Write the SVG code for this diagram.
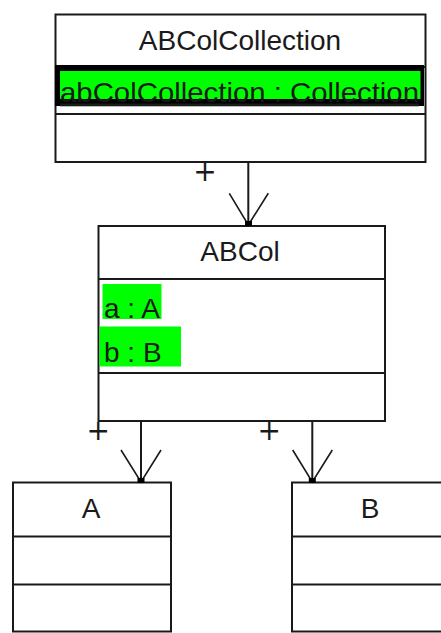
<svg xmlns="http://www.w3.org/2000/svg" width="441" height="633" viewBox="0 0 441 633">
<style>
.box{fill:#fff;stroke:#1a1a1a;stroke-width:2}
.div{stroke:#1a1a1a;stroke-width:2}
.t{font-family:"Liberation Sans",Arial,sans-serif;font-size:28px;fill:#1a1a1a}
.hl{fill:#00ff00}
.edge{stroke:#1a1a1a;stroke-width:2;fill:none}
.head{stroke:#1a1a1a;stroke-width:1.6;fill:none}
.mult{font-family:"DejaVu Sans",sans-serif;font-size:28px;fill:#1a1a1a}
</style>
<rect width="441" height="633" fill="#fff"/>
<g id="ABColCollection">
<rect class="box" x="55.5" y="14.5" width="370" height="147.5"/>
<line class="div" x1="55.5" y1="67" x2="425.5" y2="67"/>
<rect x="55" y="65" width="369" height="41" fill="#000"/>
<rect class="hl" x="60" y="71" width="360.5" height="28"/>
<line class="div" x1="55.5" y1="114" x2="425.5" y2="114"/>
<text class="t" x="240" y="49.5" text-anchor="middle">ABColCollection</text>
<text class="t" x="60" y="101.5" textLength="359" lengthAdjust="spacingAndGlyphs" text-decoration="underline" fill="#000">abColCollection : Collection</text>
</g>
<g id="ABCol">
<rect class="box" x="98.5" y="226" width="286.5" height="195"/>
<line class="div" x1="98.5" y1="279" x2="385" y2="279"/>
<line class="div" x1="98.5" y1="373" x2="385" y2="373"/>
<text class="t" x="240" y="261" text-anchor="middle">ABCol</text>
<rect class="hl" x="102.5" y="284" width="59" height="35"/>
<rect class="hl" x="99.5" y="326.5" width="81.5" height="40"/>
<text class="t" x="104" y="317.5" fill="#000">a : A</text>
<text class="t" x="104" y="362" fill="#000">b : B</text>
</g>
<g id="A">
<rect class="box" x="13" y="482.5" width="158" height="149"/>
<line class="div" x1="13" y1="536.5" x2="171" y2="536.5"/>
<line class="div" x1="13" y1="584.5" x2="171" y2="584.5"/>
<text class="t" x="91" y="518" text-anchor="middle">A</text>
</g>
<g id="B">
<rect class="box" x="292" y="482.5" width="158" height="149"/>
<line class="div" x1="292" y1="536.5" x2="450" y2="536.5"/>
<line class="div" x1="292" y1="584.5" x2="450" y2="584.5"/>
<text class="t" x="370" y="518" text-anchor="middle">B</text>
</g>
<g id="connectors">
<line class="edge" x1="248.3" y1="162" x2="248.3" y2="225"/>
<polyline class="head" points="229.3,193.3 248.3,225 268.3,193.3"/>
<rect x="245" y="221" width="7" height="5" fill="#000"/>
<text class="mult" x="205" y="180.5" text-anchor="middle">+</text>
<line class="edge" x1="141" y1="421" x2="141" y2="482"/>
<polyline class="head" points="121,450 141,482 161,450"/>
<rect x="137.5" y="478" width="7" height="5" fill="#000"/>
<text class="mult" x="98.3" y="439.5" text-anchor="middle">+</text>
<line class="edge" x1="312.3" y1="421" x2="312.3" y2="482"/>
<polyline class="head" points="292.7,450 312.3,482 332.3,450"/>
<rect x="308.8" y="478" width="7" height="5" fill="#000"/>
<text class="mult" x="269.3" y="439.5" text-anchor="middle">+</text>
</g>
</svg>
